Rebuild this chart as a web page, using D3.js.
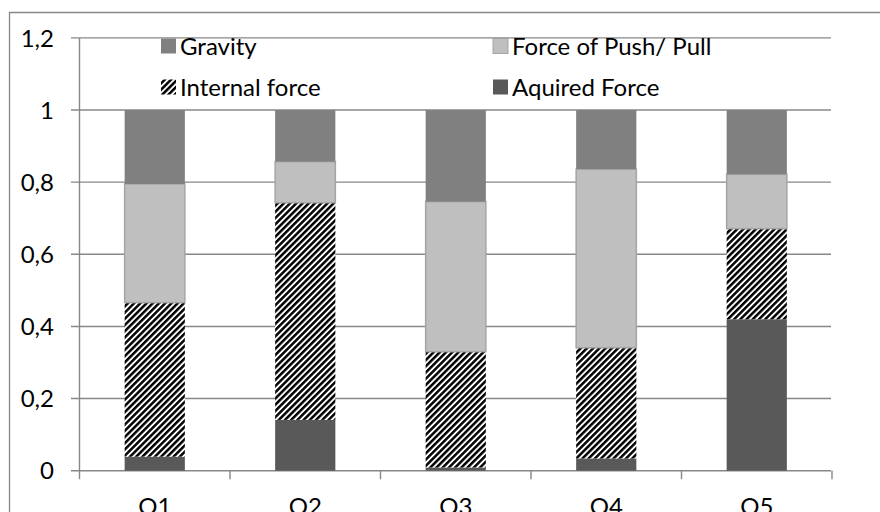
<!DOCTYPE html>
<html><head><meta charset="utf-8">
<script src="https://cdn.jsdelivr.net/npm/d3@7"></script>
<style>body{margin:0;background:#fff}svg{display:block}text{font-family:Lato,"Open Sans",sans-serif;fill:#000}</style>
</head><body><svg id="c" width="880" height="512"></svg>
<script>
const categories = ["Q1","Q2","Q3","Q4","Q5"];
const seriesNames = ["Aquired Force","Internal force","Force of Push/ Pull","Gravity"];
const aquired  = [0.039,0.141,0.009,0.034,0.420];
const internal = [0.427,0.602,0.321,0.307,0.251];
const pushPull = [0.329,0.114,0.416,0.495,0.151];
const gravity  = [0.205,0.143,0.254,0.164,0.178];
const yTicks = [0,0.2,0.4,0.6,0.8,1,1.2];
const yTickLabels = ["0","0,2","0,4","0,6","0,8","1","1,2"];
const legendOrder = ["Gravity","Force of Push/ Pull","Internal force","Aquired Force"];

const svg = d3.select("#c");
const fills = {"Aquired Force":"#595959","Internal force":"url(#hatch)","Force of Push/ Pull":"#bfbfbf","Gravity":"#808080"};
const strokes = {"Force of Push/ Pull":"#a5a5a5"};

const defs = svg.append("defs");
const pat = defs.append("pattern").attr("id","hatch").attr("patternUnits","userSpaceOnUse")
  .attr("width",4.4).attr("height",4.4).attr("patternTransform","rotate(45)");
pat.append("rect").attr("width",4.4).attr("height",4.4).attr("fill","#fff");
pat.append("rect").attr("x",0).attr("y",0).attr("width",2.5).attr("height",4.4).attr("fill","#000");

// outer border
svg.append("path").attr("d","M9.5,520 V12.5 H890").attr("fill","none").attr("stroke","#868686").attr("stroke-width",1.3);

const x = d3.scaleBand().domain(categories).range([79.5,832]).paddingInner(0.6).paddingOuter(0.3);
const y = d3.scaleLinear().domain([0,1.2]).range([470.7,37.9]);

// gridlines
svg.append("g").selectAll("line").data(yTicks).join("line")
  .attr("x1",71).attr("x2",831).attr("y1",d=>y(d)).attr("y2",d=>y(d))
  .attr("stroke","#878787").attr("stroke-width",1.4);

// y axis
svg.append("line").attr("x1",79.5).attr("x2",79.5).attr("y1",y(1.2)).attr("y2",y(0)).attr("stroke","#878787").attr("stroke-width",1.4);
svg.append("g").selectAll("text").data(yTicks).join("text")
  .attr("x",54).attr("y",d=>y(d)).attr("dy","0.36em").attr("text-anchor","end")
  .style("font-size","24px").text((d,i)=>yTickLabels[i]);

// x axis ticks at band boundaries
const bounds = d3.range(categories.length+1).map(i=>79.5+i*(832-79.5)/categories.length);
svg.append("g").selectAll("line").data(bounds).join("line")
  .attr("x1",d=>d).attr("x2",d=>d).attr("y1",y(0)).attr("y2",y(0)+8.5)
  .attr("stroke","#878787").attr("stroke-width",1.4);
svg.append("g").selectAll("text").data(categories).join("text")
  .attr("x",d=>x(d)+x.bandwidth()/2).attr("y",515).attr("text-anchor","middle")
  .style("font-size","24px").text(d=>d);

// stacked bars
const table = categories.map((c,i)=>({cat:c,"Aquired Force":aquired[i],"Internal force":internal[i],"Force of Push/ Pull":pushPull[i],"Gravity":gravity[i]}));
const stack = d3.stack().keys(seriesNames)(table);
const g = svg.append("g");
stack.forEach(s=>{
  g.append("g").selectAll("rect").data(s).join("rect")
   .attr("x",d=>x(d.data.cat)).attr("width",x.bandwidth())
   .attr("y",d=>y(d[1])).attr("height",d=>y(d[0])-y(d[1]))
   .attr("fill",fills[s.key])
   .attr("stroke",strokes[s.key]||"none").attr("stroke-width",1.5);
});

// legend
const legPos = [[161,46],[493,46],[161,87],[493,87]];
const lg = svg.append("g");
legendOrder.forEach((k,i)=>{
  const [lx,ly]=legPos[i];
  lg.append("rect").attr("x",lx).attr("y",ly-7.5).attr("width",15).attr("height",15)
    .attr("fill",fills[k]).attr("stroke",strokes[k]||"none").attr("stroke-width",1);
  lg.append("text").attr("x",lx+19).attr("y",ly).attr("dy","0.36em").style("font-size","24px").text(k);
});
</script></body></html>
